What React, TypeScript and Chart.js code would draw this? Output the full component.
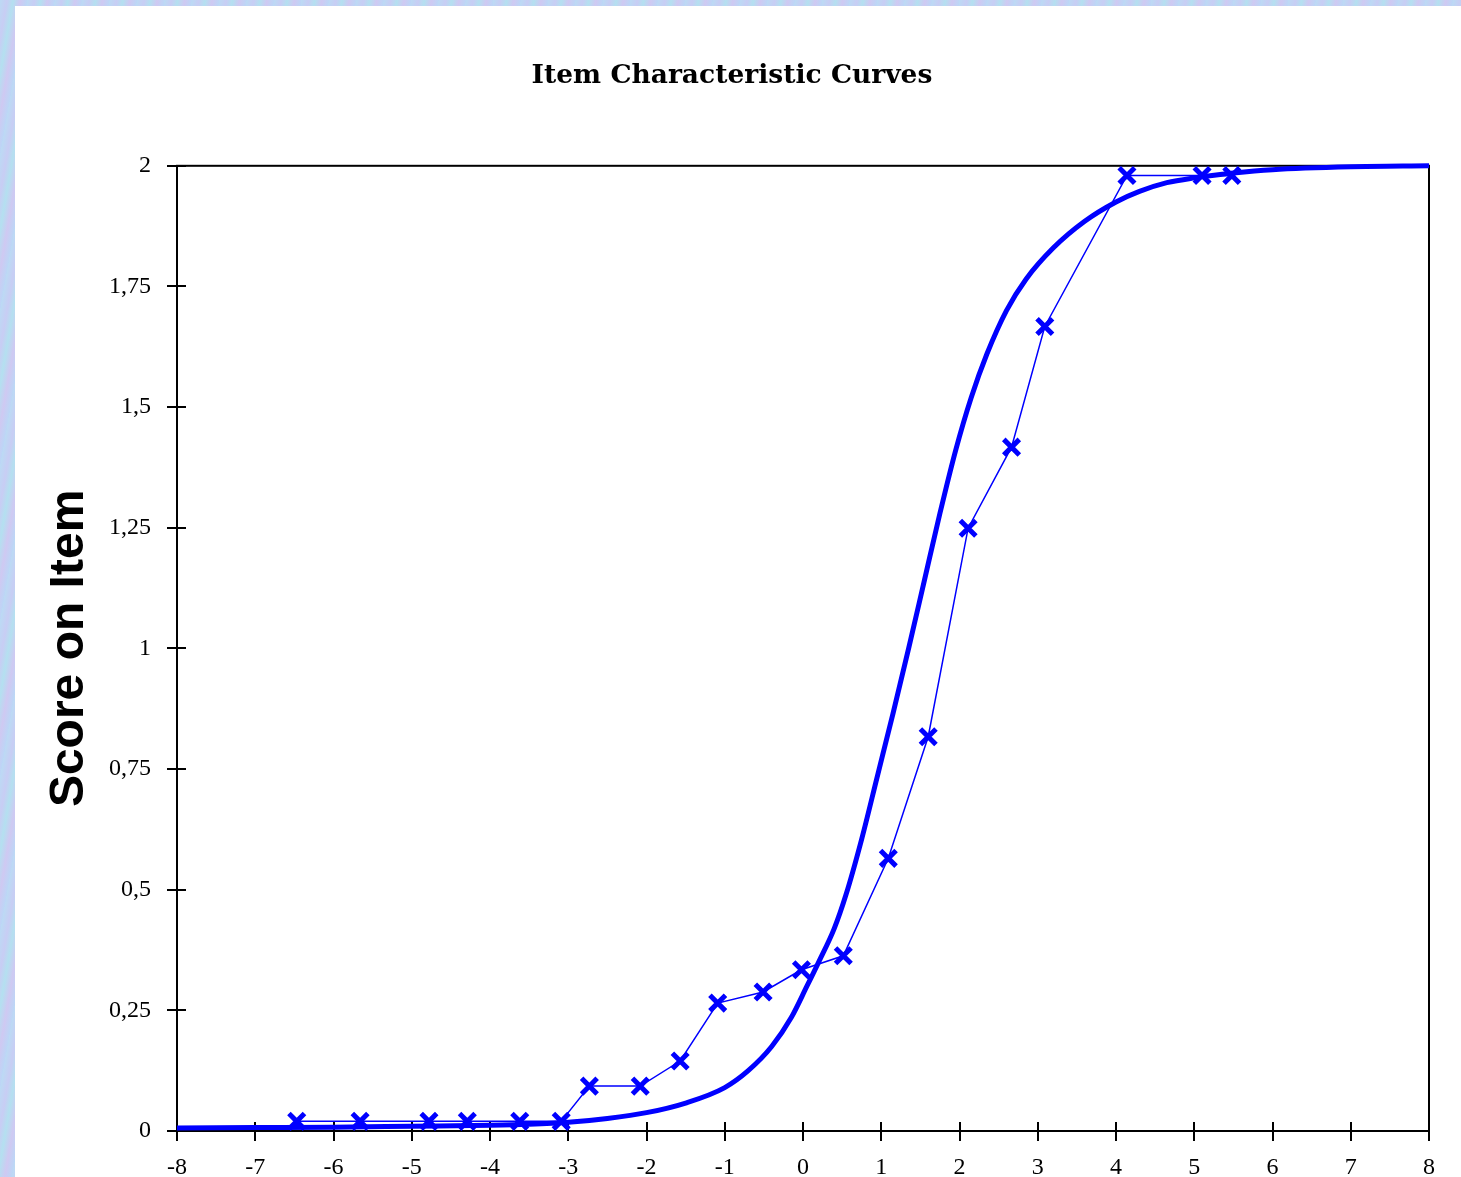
import React, { useEffect, useRef } from "react";
import { Chart, registerables } from "chart.js";

Chart.register(...registerables);

// Model (expected score) curve
const modelTheta = [-8, -7, -6, -5, -4, -3.5, -3, -2.5, -2, -1.5, -1, -0.7, -0.4, -0.15, 0.05, 0.2, 0.4, 0.55, 0.75, 0.95, 1.15, 1.35, 1.55, 1.75, 1.95, 2.15, 2.35, 2.6, 2.85, 3.2, 3.6, 4.0, 4.3, 4.65, 5.0, 5.5, 6.0, 7.0, 8.0];
const modelScore = [0.006, 0.007, 0.008, 0.01, 0.012, 0.014, 0.018, 0.026, 0.038, 0.058, 0.09, 0.125, 0.175, 0.235, 0.3, 0.35, 0.42, 0.49, 0.605, 0.735, 0.865, 1.0, 1.14, 1.28, 1.41, 1.52, 1.61, 1.7, 1.765, 1.83, 1.885, 1.925, 1.947, 1.965, 1.975, 1.985, 1.992, 1.998, 2.0];

// Observed scores (X markers)
const observedTheta = [-6.47, -5.66, -4.78, -4.29, -3.62, -3.09, -2.73, -2.08, -1.57, -1.09, -0.51, -0.02, 0.515, 1.09, 1.6, 2.11, 2.665, 3.09, 4.14, 5.1, 5.48];
const observedScore = [0.02, 0.02, 0.02, 0.02, 0.02, 0.02, 0.093, 0.093, 0.145, 0.265, 0.288, 0.334, 0.363, 0.565, 0.817, 1.249, 1.417, 1.667, 1.98, 1.98, 1.98];

const yTickValues = [0, 0.25, 0.5, 0.75, 1, 1.25, 1.5, 1.75, 2];
const yTickLabels = ["0", "0,25", "0,5", "0,75", "1", "1,25", "1,5", "1,75", "2"];

const chartTitle = "Item Characteristic Curves";
const yAxisTitle = "Score on Item";

const BLUE = "#0000ff";

const framePlugin = {
  id: "frameTicks",
  beforeDatasetsDraw(chart: any) {
    const { ctx, chartArea: a, scales } = chart;
    ctx.save();
    ctx.strokeStyle = "#000";
    ctx.lineWidth = 2;
    ctx.strokeRect(a.left, a.top, a.right - a.left, a.bottom - a.top);
    ctx.beginPath();
    scales.x.ticks.forEach((t: any) => {
      const px = Math.round(scales.x.getPixelForValue(t.value));
      ctx.moveTo(px, a.bottom - 9);
      ctx.lineTo(px, a.bottom + 10);
    });
    scales.y.ticks.forEach((t: any) => {
      const py = Math.round(scales.y.getPixelForValue(t.value));
      ctx.moveTo(a.left - 10, py);
      ctx.lineTo(a.left + 9, py);
    });
    ctx.stroke();
    ctx.restore();
  },
};

export default function App() {
  const canvasRef = useRef<HTMLCanvasElement | null>(null);

  useEffect(() => {
    const canvas = canvasRef.current;
    if (!canvas) return;
    const chart = new Chart(canvas, {
      type: "line",
      data: {
        datasets: [
          {
            label: "Observed",
            data: observedTheta.map((x, i) => ({ x, y: observedScore[i] })),
            borderColor: BLUE,
            backgroundColor: BLUE,
            borderWidth: 1.5,
            pointStyle: "crossRot",
            pointRadius: 11,
            pointBorderWidth: 5,
            pointBorderColor: BLUE,
            tension: 0,
            clip: 14,
          },
          {
            label: "Model",
            data: modelTheta.map((x, i) => ({ x, y: modelScore[i] })),
            borderColor: BLUE,
            backgroundColor: BLUE,
            borderWidth: 5,
            pointRadius: 0,
            cubicInterpolationMode: "monotone",
            clip: 6,
          },
        ],
      },
      options: {
        responsive: false,
        animation: false,
        devicePixelRatio: 1,
        layout: { padding: { left: 20, right: 32, top: 0, bottom: 0 } },
        plugins: {
          legend: { display: false },
          tooltip: { enabled: false },
          title: {
            display: true,
            text: chartTitle,
            color: "#000",
            font: { family: "'DejaVu Serif', serif", size: 26.5, weight: "bold", lineHeight: 1.2 },
            padding: { top: 54, bottom: 74 },
          },
        },
        scales: {
          x: {
            type: "linear",
            min: -8,
            max: 8,
            grid: { display: false, drawTicks: false },
            border: { display: false },
            ticks: {
              stepSize: 1,
              color: "#000",
              padding: 22,
              font: { family: "'Liberation Serif', serif", size: 24 },
              callback: (v: any) => String(v),
            },
            afterFit: (s: any) => {
              s.height = 46;
            },
          },
          y: {
            type: "linear",
            min: 0,
            max: 2,
            grid: { display: false, drawTicks: false },
            border: { display: false },
            ticks: {
              stepSize: 0.25,
              color: "#000",
              padding: 26,
              font: { family: "'Liberation Serif', serif", size: 24 },
              callback: (v: any) => {
                const i = yTickValues.findIndex((t) => Math.abs(t - Number(v)) < 1e-6);
                return i >= 0 ? yTickLabels[i] : "";
              },
            },
            title: {
              display: true,
              text: yAxisTitle,
              color: "#000",
              font: { family: "'Liberation Sans', Arial, sans-serif", size: 48, weight: "bold", lineHeight: 1.2 },
              padding: { top: 6, bottom: 0 },
            },
            afterFit: (s: any) => {
              s.width = 142;
            },
          },
        },
      },
      plugins: [framePlugin],
    });
    return () => chart.destroy();
  }, []);

  return (
    <div
      style={{
        position: "absolute",
        left: 0,
        top: 0,
        width: 1461,
        height: 1177,
        overflow: "hidden",
        background:
          "repeating-linear-gradient(100deg, #bcdaf4 0px, #c8cdf4 7px, #b4e0f0 13px, #cfc9f2 20px, #bcd6f6 27px)",
      }}
    >
      <div style={{ position: "absolute", left: 15, top: 6, width: 1446, height: 1171, background: "#fff" }}>
        <canvas ref={canvasRef} width={1446} height={1171} style={{ display: "block" }} />
      </div>
    </div>
  );
}
